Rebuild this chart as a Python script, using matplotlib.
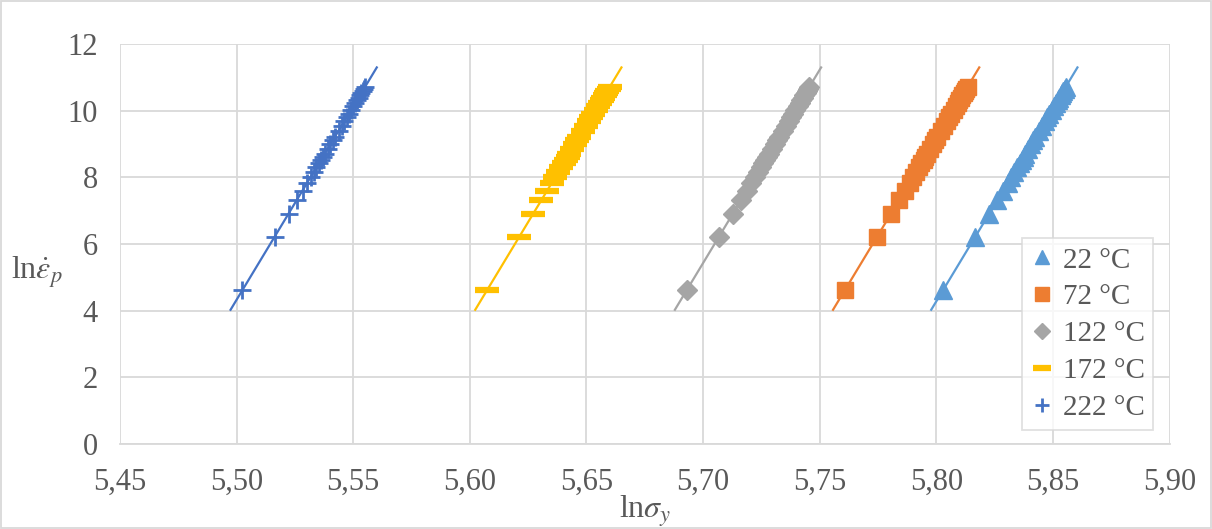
import numpy as np
import matplotlib
matplotlib.use("Agg")
import matplotlib.pyplot as plt
from matplotlib.patches import Rectangle

plt.rcParams['font.family'] = ['Liberation Serif', 'DejaVu Serif']
plt.rcParams['mathtext.fontset'] = 'stix'

# ln of plastic strain rate (shared by all series)
ln_rate = [4.605, 6.215, 6.908, 7.313, 7.601, 7.824, 8.006, 8.161, 8.294, 8.412,
           8.517, 8.613, 8.700, 8.854, 8.987, 9.105, 9.210, 9.393, 9.547, 9.680,
           9.798, 9.903, 10.021, 10.127, 10.222, 10.309, 10.389, 10.463, 10.532,
           10.597, 10.657, 10.714]

# ln of yield stress for each temperature
ln_sigma_22 = [5.8028, 5.8167, 5.8227, 5.8262, 5.8287, 5.8306, 5.8321, 5.8335, 5.8346, 5.8357,
               5.8366, 5.8374, 5.8381, 5.8395, 5.8406, 5.8416, 5.8425, 5.8441, 5.8454, 5.8466,
               5.8476, 5.8485, 5.8495, 5.8505, 5.8513, 5.8520, 5.8527, 5.8533, 5.8539,
               5.8545, 5.8550, 5.8555]
ln_sigma_72 = [5.7607, 5.7746, 5.7806, 5.7841, 5.7866, 5.7885, 5.7900, 5.7914, 5.7925, 5.7936,
               5.7945, 5.7953, 5.7960, 5.7974, 5.7985, 5.7995, 5.8004, 5.8020, 5.8033, 5.8045,
               5.8055, 5.8064, 5.8074, 5.8084, 5.8092, 5.8099, 5.8106, 5.8112, 5.8118,
               5.8124, 5.8129, 5.8134]
ln_sigma_122 = [5.6929, 5.7068, 5.7128, 5.7163, 5.7188, 5.7207, 5.7222, 5.7236, 5.7247, 5.7258,
                5.7267, 5.7275, 5.7282, 5.7296, 5.7307, 5.7317, 5.7326, 5.7342, 5.7355, 5.7367,
                5.7377, 5.7386, 5.7396, 5.7406, 5.7414, 5.7421, 5.7428, 5.7434, 5.7440,
                5.7446, 5.7451, 5.7456]
ln_sigma_172 = [5.6073, 5.6212, 5.6272, 5.6307, 5.6332, 5.6351, 5.6366, 5.6380, 5.6391, 5.6402,
                5.6411, 5.6419, 5.6426, 5.6440, 5.6451, 5.6461, 5.6470, 5.6486, 5.6499, 5.6511,
                5.6521, 5.6530, 5.6540, 5.6550, 5.6558, 5.6565, 5.6572, 5.6578, 5.6584,
                5.6590, 5.6595, 5.6600]
ln_sigma_222 = [5.5024, 5.5163, 5.5223, 5.5258, 5.5283, 5.5302, 5.5317, 5.5331, 5.5342, 5.5353,
                5.5362, 5.5370, 5.5377, 5.5391, 5.5402, 5.5412, 5.5421, 5.5437, 5.5450, 5.5462,
                5.5472, 5.5481, 5.5491, 5.5501, 5.5509, 5.5516, 5.5523, 5.5529, 5.5535,
                5.5541, 5.5546, 5.5551]

labels = ['22 °C', '72 °C', '122 °C', '172 °C', '222 °C']
x_ticks = [5.45, 5.50, 5.55, 5.60, 5.65, 5.70, 5.75, 5.80, 5.85, 5.90]
y_ticks = [0, 2, 4, 6, 8, 10, 12]

series = [ln_sigma_22, ln_sigma_72, ln_sigma_122, ln_sigma_172, ln_sigma_222]
colors = ['#5B9BD5', '#ED7D31', '#A5A5A5', '#FFC000', '#4472C4']
markers = ['^', 's', 'D', '_', '+']
msizes = [13, 12, 10, 17, 13]
mews = [1, 1, 1, 4.5, 2]

fig = plt.figure(figsize=(12.12, 5.29), dpi=100)
ax = fig.add_axes([0.099, 0.161, 0.866, 0.756])

y = np.array(ln_rate)
for xs, c, m, ms, mew, lab in zip(series, colors, markers, msizes, mews, labels):
    xs = np.array(xs)
    k, b = np.polyfit(xs, y, 1)
    xl = np.array([xs.min() - 0.005, xs.max() + 0.005])
    ax.plot(xl, k * xl + b, color=c, lw=1.6, zorder=2, label='_nolegend_')
    ax.plot(xs, y, linestyle='none', marker=m, ms=ms, mew=mew, color=c,
            mec=c, mfc=c, zorder=3, label=lab)

ax.set_xlim(5.45, 5.90)
ax.set_ylim(0, 12)
ax.set_xticks(x_ticks)
ax.set_xticklabels([f'{v:.2f}'.replace('.', ',') for v in x_ticks])
ax.set_yticks(y_ticks)
ax.grid(True, color='#D9D9D9', lw=1.3)
ax.set_axisbelow(True)
for s in ['top', 'right', 'left']:
    ax.spines[s].set_visible(False)
ax.spines['bottom'].set_color('#D9D9D9')
ax.spines['bottom'].set_linewidth(1.3)
ax.tick_params(length=0, labelsize=22, colors='#595959')
ax.tick_params(axis='x', pad=17)
ax.tick_params(axis='y', pad=16)

ax.set_xlabel(r'ln$\sigma_y$', fontsize=23, color='#595959')
ax.xaxis.set_label_coords(0.5, -0.125)
ax.set_ylabel(r'ln$\dot{\varepsilon}_p$', fontsize=23, color='#595959',
              rotation=0, va='center', ha='center')
ax.yaxis.set_label_coords(-0.079, 0.43)

leg = ax.legend(loc='lower right', bbox_to_anchor=(0.99, 0.02), fontsize=21,
                frameon=True, fancybox=False, edgecolor='#D9D9D9',
                handlelength=0.8, handletextpad=0.3, borderpad=0.3,
                labelspacing=0.36, borderaxespad=0.2, markerscale=0.8)
for t in leg.get_texts():
    t.set_color('#595959')
leg.get_frame().set_linewidth(1.3)

fig.patches.append(Rectangle((0.001, 0.001), 0.998, 0.998, transform=fig.transFigure,
                             fill=False, edgecolor='#D9D9D9', lw=1.3))

fig.savefig('out.png', dpi=100)
